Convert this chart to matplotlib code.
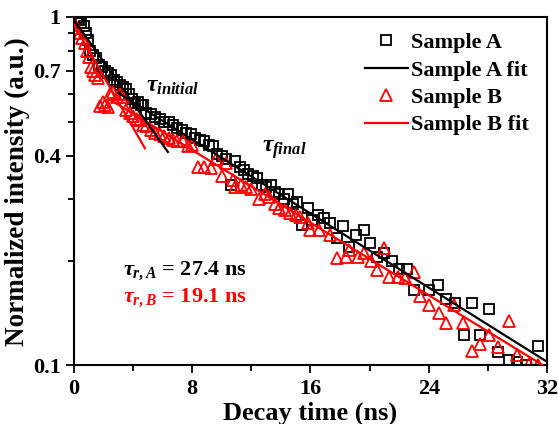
import matplotlib
matplotlib.use('Agg')
import matplotlib.pyplot as plt
import numpy as np
from matplotlib.ticker import FixedLocator, NullFormatter, MultipleLocator

plt.rcParams['font.family'] = 'Liberation Serif'
plt.rcParams['font.weight'] = 'bold'
plt.rcParams['mathtext.fontset'] = 'custom'
plt.rcParams['mathtext.it'] = 'Liberation Serif:italic:bold'
plt.rcParams['mathtext.rm'] = 'Liberation Serif:bold'
plt.rcParams['mathtext.bf'] = 'Liberation Serif:bold'

# Sample A (squares)
tA = [0.2, 0.35, 0.5, 0.65, 0.8, 0.95, 1.1, 1.3, 1.5, 1.7, 1.9, 2.1, 2.3, 2.5, 2.7, 2.9,
      3.1, 3.3, 3.5, 3.7, 3.9, 4.1, 4.3, 4.5, 4.7, 4.9, 5.2, 5.5, 5.8, 6.1, 6.4, 6.7,
      7.0, 7.3, 7.6, 7.9, 8.2, 8.5, 8.8, 9.1, 9.4, 9.7, 10.0, 10.3, 10.6, 10.9, 11.2,
      11.5, 11.8, 12.1, 12.4, 12.7, 13.0, 13.3, 13.6, 13.9, 14.2, 14.5, 14.8, 15.1,
      15.4, 15.8, 16.1, 16.5, 16.9, 17.3, 17.8, 18.2, 18.6, 19.1, 19.6, 20.0, 20.5,
      21.0, 21.5, 22.0, 22.5, 23.0, 24.0, 24.6, 25.2, 25.8, 26.4, 26.9, 27.5, 28.1,
      28.7, 29.4, 30.0, 30.6, 31.4]
yA = [0.99, 0.98, 0.96, 0.94, 0.90, 0.86, 0.80, 0.78, 0.76, 0.73, 0.72, 0.70, 0.69,
      0.68, 0.66, 0.65, 0.64, 0.63, 0.62, 0.60, 0.58, 0.565, 0.57, 0.56, 0.56, 0.53,
      0.525, 0.515, 0.51, 0.50, 0.50, 0.49, 0.48, 0.475, 0.465, 0.46, 0.45, 0.445,
      0.44, 0.43, 0.425, 0.405, 0.40, 0.39, 0.33, 0.385, 0.37, 0.365, 0.355, 0.35,
      0.345, 0.33, 0.325, 0.33, 0.315, 0.31, 0.30, 0.31, 0.29, 0.295, 0.253, 0.283,
      0.262, 0.27, 0.265, 0.257, 0.232, 0.252, 0.219, 0.237, 0.245, 0.224, 0.205,
      0.21, 0.20, 0.189, 0.189, 0.165, 0.165, 0.17, 0.155, 0.151, 0.122, 0.151,
      0.1225, 0.145, 0.109, 0.104, 0.102, 0.100, 0.114]

# Sample B (triangles)
tB = [0.05, 0.2, 0.4, 0.55, 0.75, 0.9, 1.0, 1.15, 1.3, 1.45, 1.6, 1.75, 1.95, 2.1, 2.3,
      2.45, 2.65, 2.9, 3.1, 3.3, 3.55, 3.8, 4.0, 4.25, 4.45, 4.7, 4.9, 5.2, 5.5, 5.8,
      6.1, 6.4, 6.7, 7.0, 7.35, 7.7, 8.0, 8.4, 8.8, 9.3, 9.6, 10.0, 10.3, 10.75, 10.9,
      11.3, 11.65, 12.0, 12.5, 12.9, 13.2, 13.6, 13.9, 14.3, 14.6, 15.0, 15.3, 15.8,
      16.0, 16.6, 17.3, 17.8, 18.4, 18.6, 19.2, 19.6, 20.1, 20.5, 21.0, 21.3, 21.9,
      22.4, 23.0, 23.4, 24.0, 24.7, 25.2, 25.7, 26.3, 26.9, 27.5, 28.1, 28.7, 29.4,
      30.0, 30.75, 31.4]
yB = [0.95, 0.93, 0.90, 0.87, 0.84, 0.80, 0.77, 0.72, 0.70, 0.68, 0.67, 0.555, 0.57,
      0.56, 0.55, 0.60, 0.61, 0.59, 0.60, 0.59, 0.54, 0.53, 0.52, 0.51, 0.505, 0.49,
      0.485, 0.475, 0.465, 0.46, 0.455, 0.45, 0.445, 0.44, 0.44, 0.425, 0.43, 0.37,
      0.37, 0.368, 0.39, 0.35, 0.38, 0.34, 0.326, 0.33, 0.326, 0.32, 0.30, 0.31,
      0.305, 0.29, 0.283, 0.28, 0.273, 0.27, 0.267, 0.256, 0.245, 0.245, 0.237,
      0.203, 0.205, 0.215, 0.205, 0.21, 0.20, 0.188, 0.217, 0.18, 0.179, 0.178,
      0.186, 0.158, 0.149, 0.141, 0.132, 0.149, 0.132, 0.110, 0.115, 0.122, 0.113,
      0.134, 0.107, 0.101, 0.100]

# fit lines (end points)
fitA_init_t = [0, 6.35]
fitA_init_y = [0.98, 0.41]
fitA_final_t = [3.0, 32]
fitA_final_y = [0.605, 0.1025]
fitB_init_t = [0, 4.8]
fitB_init_y = [0.95, 0.42]
fitB_final_t = [2.5, 32]
fitB_final_y = [0.577, 0.0985]

red = '#ff0000'

fig = plt.figure(figsize=(5.58, 4.24), dpi=100)
ax = fig.add_axes([0.1326, 0.138, 0.8477, 0.822])

ax.plot(tA, yA, 's', mfc='none', mec='k', mew=1.3, ms=6.5, label='Sample A', zorder=2)
ax.plot(fitA_final_t, fitA_final_y, '-', color='k', lw=1.6, label='Sample A fit', zorder=3)
ax.plot(tB, yB, '^', mfc='none', mec=red, mew=1.3, ms=8, label='Sample B', zorder=2)
ax.plot(fitB_final_t, fitB_final_y, '-', color=red, lw=1.6, label='Sample B fit', zorder=3)
ax.plot(fitA_init_t, fitA_init_y, '-', color='k', lw=1.6, zorder=3)
ax.plot(fitB_init_t, fitB_init_y, '-', color=red, lw=1.6, zorder=3)

ax.set_yscale('log')
ax.set_xlim(0, 32)
ax.set_ylim(0.1, 1)
ax.xaxis.set_major_locator(MultipleLocator(8))
ax.xaxis.set_minor_locator(MultipleLocator(4))
ax.yaxis.set_major_locator(FixedLocator([0.1, 0.4, 0.7, 1]))
ax.set_yticklabels(['0.1', '0.4', '0.7', '1'])
ax.yaxis.set_minor_locator(FixedLocator([0.2, 0.3, 0.5, 0.6, 0.8, 0.9]))
ax.yaxis.set_minor_formatter(NullFormatter())
ax.tick_params(which='both', direction='out', top=False, right=False, width=1.3, labelsize=16)
ax.tick_params(which='major', length=6)
ax.tick_params(which='minor', length=4)
for s in ax.spines.values():
    s.set_linewidth(1.5)

ax.set_xlabel('Decay time (ns)', fontsize=19, fontweight='bold', labelpad=2)
ax.set_ylabel('Normalized intensity (a.u.)', fontsize=19.5, fontweight='bold', labelpad=2)

ax.text(4.9, 0.63, r'$\tau_{initial}$', fontsize=17, va='center')
ax.text(12.7, 0.415, r'$\tau_{final}$', fontsize=17, va='center')
ax.text(3.3, 0.187, r'$\tau_{r,A}$ = 27.4 ns', fontsize=16, va='center', color='k')
ax.text(3.3, 0.156, r'$\tau_{r,B}$ = 19.1 ns', fontsize=16, va='center', color=red)

ax.legend(loc='upper left', bbox_to_anchor=(0.583, 1.0), frameon=False, fontsize=16,
          handlelength=1.9, handletextpad=0.15, labelspacing=0.31, borderaxespad=0.3)

plt.savefig('out.png', dpi=100)
